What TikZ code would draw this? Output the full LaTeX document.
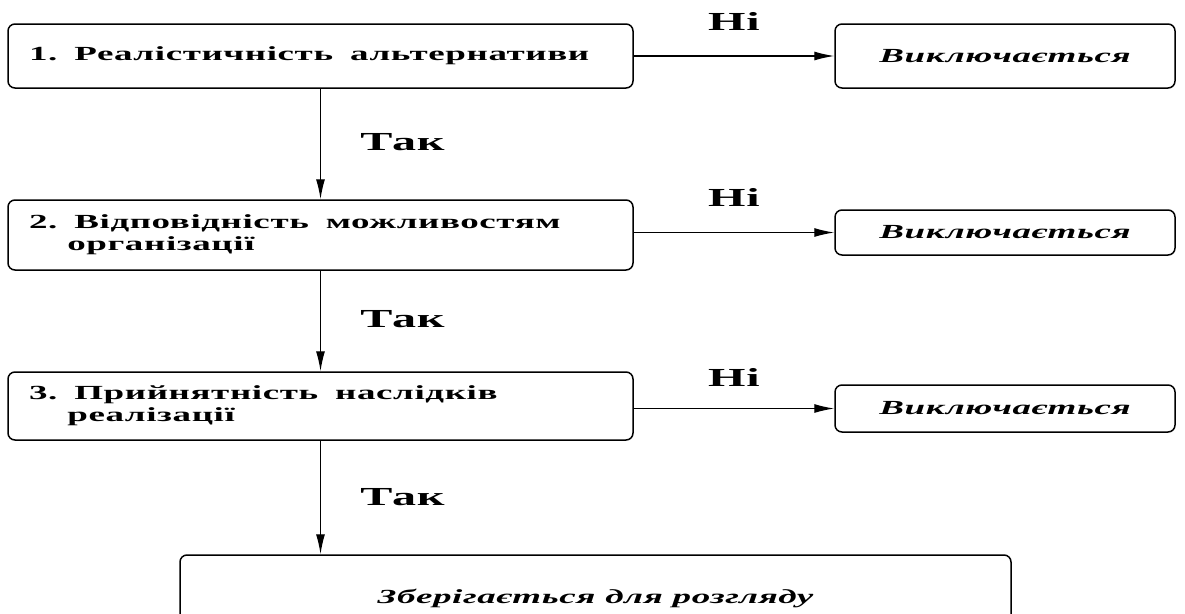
\documentclass[tikz,border=0pt]{standalone}
\usepackage{fontspec}
\setmainfont{Liberation Serif}[FakeStretch=1.85, LetterSpace=3]
\frenchspacing
\usetikzlibrary{arrows.meta,positioning}
\tikzset{
  fc diagram/.style={x=1pt, y=-1pt, font=\fontsize{20}{22}\selectfont\bfseries,
    line join=round},
  fc box/.style={draw, line width=1.5pt, rounded corners=7pt, inner xsep=21pt,
    text width=583pt, align=left,
    execute at begin node={\spaceskip=17pt plus 2pt\relax}},
  fc out/.style={draw, line width=1.5pt, rounded corners=7pt, minimum width=340pt,
    align=center, font=\fontsize{20}{22}\selectfont\bfseries\itshape},
  fc arrow/.style={-{Latex[length=20pt,width=9pt]}, line width=1.3pt},
  fc label/.style={font=\fontsize{26}{28}\selectfont\bfseries}
}
\begin{document}
\begin{tikzpicture}[fc diagram]
\useasboundingbox (0,0) rectangle (1185,613);
% criteria
\node[fc box, minimum height=64pt] (crit1) at (320.5,56) {1. Реалістичність альтернативи};
\node[fc box, minimum height=70pt] (crit2) at (320.5,235) {2. Відповідність можливостям\\\hphantom{2.}\hspace{10pt}організації};
\node[fc box, minimum height=68pt] (crit3) at (320.5,406) {3. Прийнятність наслідків\\\hphantom{3.}\hspace{10pt}реалізації};
% outcomes
\node[fc out, minimum height=64pt] (excl1) at (1005,56) {Виключається};
\node[fc out, minimum height=45pt] (excl2) at (1005,232.5) {Виключається};
\node[fc out, minimum height=47pt] (excl3) at (1005,408.5) {Виключається};
\node[fc out, minimum width=831pt, minimum height=100pt] (keep) at (595.5,605) {\raisebox{18pt}{Зберігається для розгляду}};
% no
\draw[fc arrow] (crit1.east |- excl1.west) -- node[fc label, above=22pt] (no1) {Ні} (excl1.west);
\draw[fc arrow] (crit2.east |- excl2.west) -- node[fc label, above=22pt] (no2) {Ні} (excl2.west);
\draw[fc arrow] (crit3.east |- excl3.west) -- node[fc label, above=18pt] (no3) {Ні} (excl3.west);
% yes
\draw[fc arrow] (crit1.south) -- node[fc label, right=36pt, yshift=2pt] (yes1) {Так} (crit2.north);
\draw[fc arrow] (crit2.south) -- node[fc label, right=36pt, yshift=2pt] (yes2) {Так} (crit3.north);
\draw[fc arrow] (crit3.south) -- node[fc label, right=36pt] (yes3) {Так} (crit3.south |- keep.north);
\end{tikzpicture}
\end{document}
